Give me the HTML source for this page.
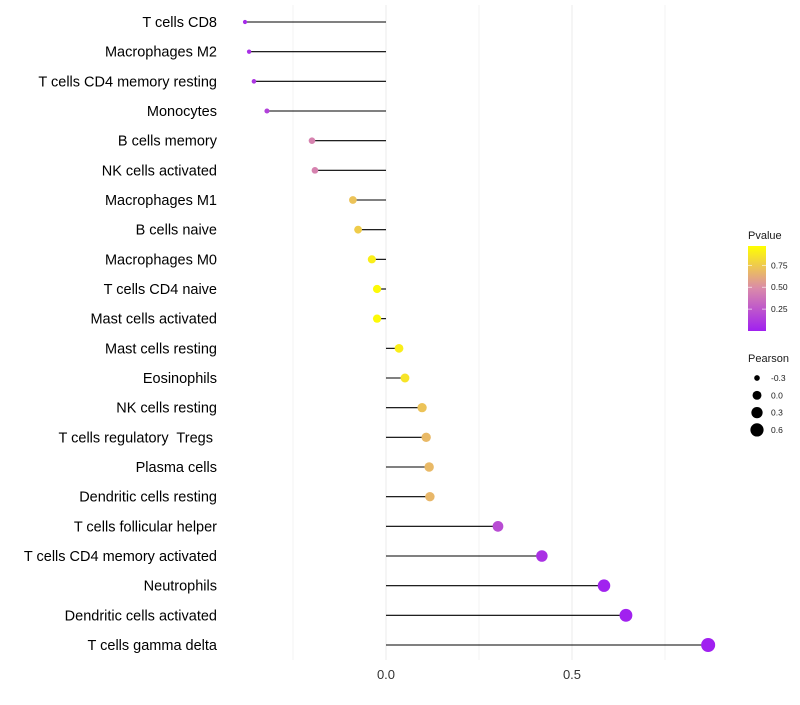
<!DOCTYPE html>
<html><head><meta charset="utf-8"><style>
body{margin:0;background:#fff;font-family:"Liberation Sans",sans-serif}
svg text{font-family:"Liberation Sans",sans-serif;white-space:pre}
</style></head><body>
<svg id="c" width="800" height="700"></svg>
<script>
const categories=["T cells CD8","Macrophages M2","T cells CD4 memory resting","Monocytes","B cells memory","NK cells activated","Macrophages M1","B cells naive","Macrophages M0","T cells CD4 naive","Mast cells activated","Mast cells resting","Eosinophils","NK cells resting","T cells regulatory  Tregs ","Plasma cells","Dendritic cells resting","T cells follicular helper","T cells CD4 memory activated","Neutrophils","Dendritic cells activated","T cells gamma delta"];
const pearson=[-0.379,-0.368,-0.355,-0.32,-0.199,-0.191,-0.089,-0.075,-0.038,-0.024,-0.024,0.035,0.051,0.097,0.108,0.116,0.118,0.301,0.419,0.586,0.645,0.866];
const pvalue=[0.05,0.07,0.1,0.15,0.45,0.45,0.72,0.76,0.9,0.95,0.95,0.9,0.86,0.72,0.68,0.68,0.67,0.2,0.08,0.01,0.005,0.0001];
const xTicks=[0,0.5];
const xTickLabels=["0.0","0.5"];
const pTicks=[0.25,0.5,0.75];
const pTickLabels=["0.25","0.50","0.75"];
const sizeTicks=[-0.3,0,0.3,0.6];
const sizeTickLabels=["-0.3","0.0","0.3","0.6"];

const NS="http://www.w3.org/2000/svg",svg=document.getElementById("c");
function mk(t,a,p){const e=document.createElementNS(NS,t);for(const k in a)e.setAttribute(k,a[k]);(p||svg).appendChild(e);return e;}
const xs=v=>386+v*372;
const ys=i=>22+i*(623/21);
const rs=v=>Math.sqrt(Math.max(18+36*v,1));
function lerp(a,b,t){return a.map((v,i)=>Math.round(v+(b[i]-v)*t));}
function col(p){const t=Math.min(p/0.97,1);const s=[[160,32,240],[218,138,170],[255,255,0]];
 const c=t<0.5?lerp(s[0],s[1],t/0.5):lerp(s[1],s[2],(t-0.5)/0.5);return `rgb(${c})`;}
[-0.25,0,0.25,0.5,0.75].forEach(v=>{const g=mk("line",{x1:xs(v),x2:xs(v),y1:5,y2:660,stroke:"#ebebeb","stroke-width":v===0||v===0.5?1:0.6});

});
xTicks.forEach((v,i)=>{const t=mk("text",{x:xs(v),y:679,"text-anchor":"middle","font-size":13,fill:"#333"});t.textContent=xTickLabels[i];

});
categories.forEach((c,i)=>{
 const y=ys(i);
 const t=mk("text",{x:217,y:y+5,"text-anchor":"end","font-size":14.5,fill:"#000"});t.textContent=c;
 
 
 const l=mk("line",{x1:xs(0),x2:xs(pearson[i]),y1:y,y2:y,stroke:"#000","stroke-width":1.1});
 
 
 const d=mk("circle",{cx:xs(pearson[i]),cy:y,r:rs(pearson[i]),fill:col(pvalue[i])});
 
 
});
const defs=mk("defs",{});const lg=mk("linearGradient",{id:"g",x1:0,y1:1,x2:0,y2:0},defs);
[0,0.25,0.5,0.75,1].forEach(o=>mk("stop",{offset:o,"stop-color":col(o*0.97)},lg));
const lt=mk("text",{x:748,y:239,"font-size":11,fill:"#1a1a1a"});lt.textContent="Pvalue";


const cb=mk("rect",{x:748,y:246,width:18,height:85,fill:"url(#g)"});


const py=p=>331-p/0.97*85;
pTicks.forEach((p,i)=>{mk("line",{x1:748,x2:752,y1:py(p),y2:py(p),stroke:"#fff","stroke-width":0.6});mk("line",{x1:762,x2:766,y1:py(p),y2:py(p),stroke:"#fff","stroke-width":0.6});
 const t=mk("text",{x:771,y:py(p)+3,"font-size":8.5,fill:"#1a1a1a"});t.textContent=pTickLabels[i];
 
 });
const st=mk("text",{x:748,y:362,"font-size":11,fill:"#1a1a1a"});st.textContent="Pearson";


sizeTicks.forEach((v,i)=>{const y=378+i*17.3;
 const c=mk("circle",{cx:757,cy:y,r:rs(v)*1.05,fill:"#000"});
 
 
 const t=mk("text",{x:771,y:y+3,"font-size":8.5,fill:"#1a1a1a"});t.textContent=sizeTickLabels[i];
 
 });
</script></body></html>
